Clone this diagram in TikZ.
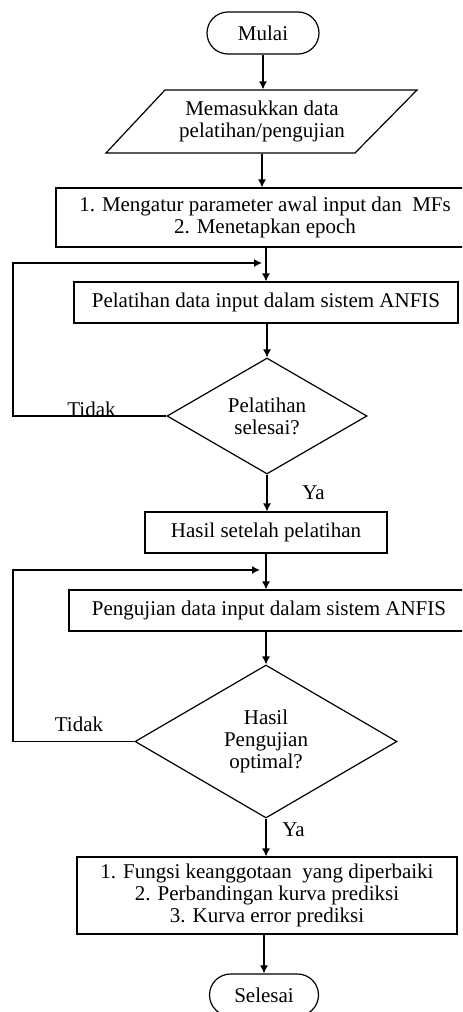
\documentclass[tikz,border=0pt]{standalone}
\usepackage{fontspec}
\setmainfont{Liberation Serif}
\usetikzlibrary{shapes.geometric,arrows.meta,calc}
\begin{document}
\begin{tikzpicture}[x=0.5pt,y=-0.5pt,
  base/.style={draw=black, line width=0.6pt, font=\fontsize{10.5}{11}\selectfont, align=center, inner sep=0pt},
  box/.style={base, rectangle},
  term/.style={base, rectangle, rounded corners=10.5pt, minimum width=56pt, minimum height=21pt},
  dec/.style={base, diamond, aspect=1.7},
  line/.style={draw=black, line width=0.6pt},
  arr/.style={line, -{Latex[length=4pt,width=4pt]}},
  lbl/.style={font=\fontsize{10.5}{11}\selectfont, inner sep=0pt, anchor=base}]
\useasboundingbox (0,0) rectangle (462,1012);
\clip (0,0) rectangle (462,1012);

\node[term] (mulai) at (263,33) {Mulai};
\node[base, draw=none, minimum width=125pt, minimum height=31.5pt] (input) at (262,121.5) {Memasukkan data\\pelatihan/pengujian};
\draw[line] (165,90) -- (417,90) -- (355,153) -- (106,153) -- cycle;
\node[box, minimum width=209pt, minimum height=29.5pt] (b1) at (265,217.5) {1. Mengatur parameter awal input dan\ \ MFs\\2. Menetapkan epoch};
\node[box, minimum width=192pt, minimum height=20.5pt] (b2) at (266,302.5) {Pelatihan data input dalam sistem ANFIS};
\node[dec, minimum width=100pt, minimum height=58pt] (d1) at (267,416) {Pelatihan\\selesai?};
\node[box, minimum width=121pt, minimum height=20.5pt] (b3) at (266,532.5) {Hasil setelah pelatihan};
\node[box, minimum width=200pt, minimum height=20.5pt] (b4) at (269,610.5) {Pengujian data input dalam sistem ANFIS};
\node[dec, minimum width=131pt, minimum height=76.5pt] (d2) at (266,741.5) {Hasil\\Pengujian\\optimal?};
\node[box, minimum width=190pt, minimum height=38.5pt] (b5) at (267,895.5) {1. Fungsi keanggotaan\ \ yang diperbaiki\\2. Perbandingan kurva prediksi\\3. Kurva error prediksi};
\node[term, minimum width=54.5pt] (selesai) at (264,995) {Selesai};

\draw[arr] (mulai) -- (mulai |- input.north);
\draw[arr] (input) -- (input |- b1.north);
\draw[arr] (b1.south -| b2.north) -- (b2.north);
\draw[arr] (b2.south -| d1.north) -- (d1.north);
\draw[arr] (d1.south) -- (d1.south |- b3.north);
\draw[arr] (b3) -- (b3 |- b4.north);
\draw[arr] (d2.north |- b4.south) -- (d2.north);
\draw[arr] (d2.south) -- (d2.south |- b5.north);
\draw[arr] (b5.south -| selesai.north) -- (selesai.north);

\coordinate (L1) at (13,263);
\coordinate (j1) at (262,263);
\draw[arr] (d1.west) -| (L1) -- (j1);
\coordinate (L2) at (13,570);
\coordinate (j2) at (260,570);
\draw[arr] (d2.west) -| (L2) -- (j2);

\node[lbl] (t1) at (91.5,416) {Tidak};
\node[lbl] (y1) at (313.5,499) {Ya};
\node[lbl] (t2) at (79,731) {Tidak};
\node[lbl] (y2) at (293.5,836) {Ya};
\end{tikzpicture}
\end{document}
